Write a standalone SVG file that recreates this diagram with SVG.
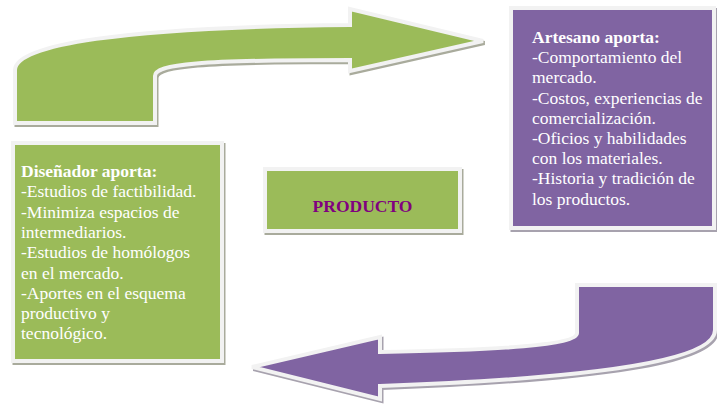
<svg xmlns="http://www.w3.org/2000/svg" width="717" height="405" viewBox="0 0 717 405">
<style>
.txt{font-family:"Liberation Serif","Times New Roman",serif;font-size:17.5px;fill:#ffffff}
.b{font-weight:bold}
.shadow{fill:#a9ab9c;stroke:#a9ab9c;stroke-width:4;stroke-linejoin:miter}
.pshadow{fill:#a7a2ae;stroke:#a7a2ae;stroke-width:4}
.green{fill:#9bbb59;stroke:#f2f2f2;stroke-width:4}
.purple{fill:#8064a2;stroke:#f2f2f2;stroke-width:4}
</style>
<rect width="717" height="405" fill="#ffffff"/>
<g id="connectors">
  <g id="arrow-green">
    <path class="shadow" transform="translate(1.5,2)" d="M 15 123 L 15 70 C 15 45, 120 27, 350 25 L 350 9 L 483 41 L 350 71 L 350 60 C 200 60, 155 64, 155 76 L 155 123 Z"/>
    <path class="green" d="M 15 123 L 15 70 C 15 45, 120 27, 350 25 L 350 9 L 483 41 L 350 71 L 350 60 C 200 60, 155 64, 155 76 L 155 123 Z"/>
  </g>
  <g id="arrow-purple">
    <path class="pshadow" transform="translate(1.5,2)" d="M 715 285 L 715 330 C 715 360, 600 378, 380 386 L 380 399 L 252 367 L 380 337 L 380 352 C 500 350, 577 345, 577 333 L 577 285 Z"/>
    <path class="purple" d="M 715 285 L 715 330 C 715 360, 600 378, 380 386 L 380 399 L 252 367 L 380 337 L 380 352 C 500 350, 577 345, 577 333 L 577 285 Z"/>
  </g>
</g>
<g id="artesano">
  <rect class="pshadow" x="512.5" y="10" width="203" height="220"/>
  <rect class="purple" x="511" y="8" width="203" height="220"/>
  <text class="txt" x="532" y="43"><tspan class="b">Artesano aporta:</tspan><tspan x="532" y="63.2">-Comportamiento del</tspan><tspan x="532" y="83.4">mercado.</tspan><tspan x="532" y="103.6">-Costos, experiencias de</tspan><tspan x="532" y="123.8">comercialización.</tspan><tspan x="532" y="144">-Oficios y habilidades</tspan><tspan x="532" y="164.2">con los materiales.</tspan><tspan x="532" y="184.4">-Historia y tradición de</tspan><tspan x="532" y="204.6">los productos.</tspan></text>
</g>
<g id="disenador">
  <rect class="shadow" x="14.5" y="145" width="209" height="218"/>
  <rect class="green" x="13" y="143" width="209" height="218"/>
  <text class="txt" x="21" y="177"><tspan class="b">Diseñador aporta:</tspan><tspan x="21" y="197.3">-Estudios de factibilidad.</tspan><tspan x="21" y="217.6">-Minimiza espacios de</tspan><tspan x="21" y="237.9">intermediarios.</tspan><tspan x="21" y="258.2">-Estudios de homólogos</tspan><tspan x="21" y="278.5">en el mercado.</tspan><tspan x="21" y="298.8">-Aportes en el esquema</tspan><tspan x="21" y="319.1">productivo y</tspan><tspan x="21" y="339.4">tecnológico.</tspan></text>
</g>
<g id="producto">
  <rect class="shadow" x="266.5" y="171" width="195" height="62"/>
  <rect class="green" x="265" y="169" width="195" height="62"/>
  <text class="txt b" x="362.5" y="212" text-anchor="middle" style="fill:#800080">PRODUCTO</text>
</g>
</svg>
